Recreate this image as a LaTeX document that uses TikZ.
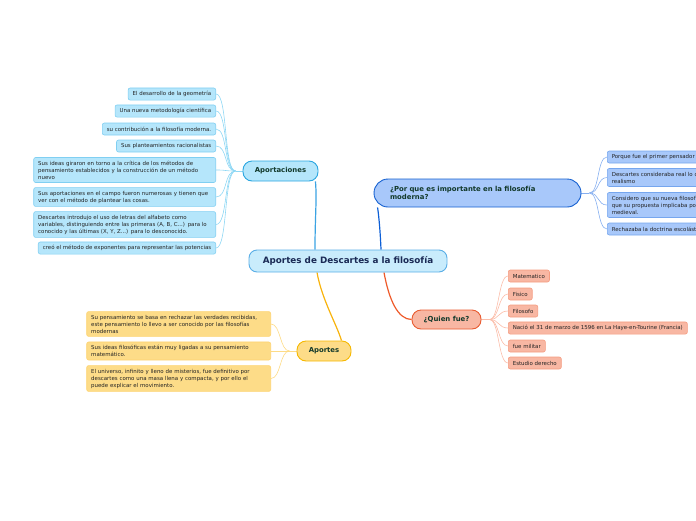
\documentclass[tikz,border=0pt]{standalone}
\usepackage{fontspec}
\setmainfont{DejaVu Sans}
\usetikzlibrary{backgrounds}

\definecolor{roottext}{HTML}{1A2A55}
\definecolor{topictext}{HTML}{12392B}
\definecolor{leaftext}{HTML}{222222}
\definecolor{rootfill}{HTML}{C9ECFC}
\definecolor{rootdraw}{HTML}{5AAEE6}
% Aportaciones branch
\definecolor{apcfill}{HTML}{B5E6FB}
\definecolor{apcdraw}{HTML}{2AA6E0}
\definecolor{apcline}{HTML}{3BA3E3}
\definecolor{apcleafdraw}{HTML}{80CFF2}
\definecolor{apcleafline}{HTML}{8ED7F4}
% Por que branch
\definecolor{porfill}{HTML}{A8C8FA}
\definecolor{pordraw}{HTML}{1560D0}
\definecolor{porline}{HTML}{0D5FD6}
\definecolor{porleafdraw}{HTML}{76A6EE}
\definecolor{porleafline}{HTML}{86AFF0}
% Quien fue branch
\definecolor{quifill}{HTML}{F8B7A3}
\definecolor{quidraw}{HTML}{E85B30}
\definecolor{quiline}{HTML}{EE5A2A}
\definecolor{quileafdraw}{HTML}{F59B80}
\definecolor{quileafline}{HTML}{FBBCA8}
% Aportes branch
\definecolor{apofill}{HTML}{FDDC88}
\definecolor{apodraw}{HTML}{F6B800}
\definecolor{apoline}{HTML}{F8B30C}
\definecolor{apoleafdraw}{HTML}{FDD370}
\definecolor{apoleafline}{HTML}{FDDB86}

\tikzset{
  leaf/.style={draw, rounded corners=2pt, line width=0.6pt, text=leaftext,
    font=\fontsize{5.45}{7}\selectfont, inner xsep=4.5pt, inner ysep=3.3pt,
    minimum height=12pt, align=left},
  topic/.style={draw, rounded corners=9pt, line width=0.9pt, text=topictext,
    font=\fontsize{6.9}{8.5}\selectfont\bfseries, inner sep=0pt},
  branch/.style={line width=1.2pt},
  twig/.style={line width=0.6pt}
}

\begin{document}
\begin{tikzpicture}[x=1pt, y=-1pt]
\useasboundingbox (0,0) rectangle (696,520);
\clip (0,0) rectangle (696,520);

% Central topic
\node[draw=rootdraw, fill=rootfill, rounded corners=8pt, line width=0.9pt,
  text=roottext, font=\fontsize{8.8}{10}\selectfont\bfseries,
  minimum width=198pt, minimum height=22pt] (root) at (348,261)
  {Aportes de Descartes a la filosofía};

% Main topics
\node[topic, draw=apcdraw, fill=apcfill, minimum width=75pt, minimum height=20pt]
  (aportaciones) at (280.5,171) {Aportaciones};
\node[topic, draw=pordraw, fill=porfill, rounded corners=14pt, align=left,
  text width=175pt, inner xsep=16pt, minimum height=28pt]
  (porque) at (477.5,193) {¿Por que es importante en la filosofía\\moderna?};
\node[topic, draw=quidraw, fill=quifill, minimum width=69pt, minimum height=19pt]
  (quien) at (446.5,319.5) {¿Quien fue?};
\node[topic, draw=apodraw, fill=apofill, minimum width=54pt, minimum height=20pt]
  (aportes) at (324,351) {Aportes};

% Leaves of Aportaciones
\begin{scope}[every node/.style={leaf, draw=apcleafdraw, fill=apcfill, anchor=east}]
\node (apc1) at (216,94) {El desarrollo de la geometría};
\node (apc2) at (216,111) {Una nueva metodología científica};
\node (apc3) at (216,129) {su contribución a la filosofía moderna.};
\node (apc4) at (216,146) {Sus planteamientos racionalistas};
\node[text width=173pt] (apc5) at (216,170) {Sus ideas giraron en torno a la crítica de los métodos de\\pensamiento establecidos y la construcción de un método\\nuevo};
\node[text width=173pt] (apc6) at (216,197) {Sus aportaciones en el campo fueron numerosas y tienen que\\ver con el método de plantear las cosas.};
\node[text width=173pt] (apc7) at (216,224.5) {Descartes introdujo el uso de letras del alfabeto como\\variables, distinguiendo entre las primeras (A, B, C...) para lo\\conocido y las últimas (X, Y, Z...) para lo desconocido.};
\node (apc8) at (216,248) {creó el método de exponentes para representar las potencias};
\end{scope}

% Leaves of Por que
\begin{scope}[every node/.style={leaf, draw=porleafdraw, fill=porfill, anchor=west}]
\node (por1) at (607,157) {Porque fue el primer pensador moderno};
\node (por2) at (607,177.5) {Descartes consideraba real lo que podía conocer con claridad,\\realismo};
\node (por3) at (607,205) {Considero que su nueva filosofía era diferente a la tradicional ya\\que su propuesta implicaba por completo romper con la filosofía\\medieval.};
\node (por4) at (607,229) {Rechazaba la doctrina escolástica};
\end{scope}

% Leaves of Quien fue
\begin{scope}[every node/.style={leaf, draw=quileafdraw, fill=quifill, anchor=west}]
\node (qui1) at (508,276) {Matematico};
\node (qui2) at (508,294) {Fisico};
\node (qui3) at (508,311) {Filosofo};
\node (qui4) at (508,328) {Nació el 31 de marzo de 1596 en La Haye-en-Tourine (Francia)};
\node (qui5) at (508,346) {fue militar};
\node (qui6) at (508,363) {Estudio derecho};
\end{scope}

% Leaves of Aportes
\begin{scope}[every node/.style={leaf, draw=apoleafdraw, fill=apofill, anchor=east, text width=175pt}]
\node (apo1) at (271,324) {Su pensamiento se basa en rechazar las verdades recibidas,\\este pensamiento lo llevo a ser conocido por las filosofías\\modernas};
\node (apo2) at (271,351) {Sus ideas filosóficas están muy ligadas a su pensamiento\\matemático.};
\node (apo3) at (271,378.5) {El universo, infinito y lleno de misterios, fue definitivo por\\descartes como una masa llena y compacta, y por ello el\\puede explicar el movimiento.};
\end{scope}

% Hubs where the twigs fan out
\coordinate (hubapc) at ([xshift=-7pt]aportaciones.west);
\coordinate (hubpor) at ([xshift=8pt]porque.east);
\coordinate (hubqui) at ([xshift=8pt]quien.east);
\coordinate (hubapo) at ([xshift=-7pt]aportes.west);

\begin{scope}[on background layer]
% Branches from the central topic
\draw[branch, apcline] ([xshift=-33pt]root.north) .. controls (315,215) and (317,200) .. ([xshift=-3pt]aportaciones.south east);
\draw[branch, porline] ([xshift=33pt]root.north) .. controls (380,225) and (378,210) .. ([xshift=4pt]porque.south west);
\draw[branch, quiline] ([xshift=36pt]root.south) .. controls (389,300) and (398,319.5) .. (quien.west);
\draw[branch, apoline] ([xshift=-31pt]root.south) .. controls (322,300) and (337,325) .. ([xshift=-10pt]aportes.north east);

% Twigs to the leaves
\draw[twig, apcleafline] (aportaciones.west) -- (hubapc);
\foreach \l in {apc1,apc2,apc3,apc4,apc5,apc6,apc7,apc8}
  \draw[twig, apcleafline] (hubapc) .. controls +(-12,0) and +(12,0) .. (\l.east);
\draw[twig, porleafline] (porque.east) -- (hubpor);
\foreach \l in {por1,por2,por3,por4}
  \draw[twig, porleafline] (hubpor) .. controls +(10,0) and +(-10,0) .. (\l.west);
\draw[twig, quileafline] (quien.east) -- (hubqui);
\foreach \l in {qui1,qui2,qui3,qui4,qui5,qui6}
  \draw[twig, quileafline] (hubqui) .. controls +(10,0) and +(-10,0) .. (\l.west);
\draw[twig, apoleafline] (aportes.west) -- (hubapo);
\foreach \l in {apo1,apo2,apo3}
  \draw[twig, apoleafline] (hubapo) .. controls +(-10,0) and +(10,0) .. (\l.east);
\end{scope}

\end{tikzpicture}
\end{document}
